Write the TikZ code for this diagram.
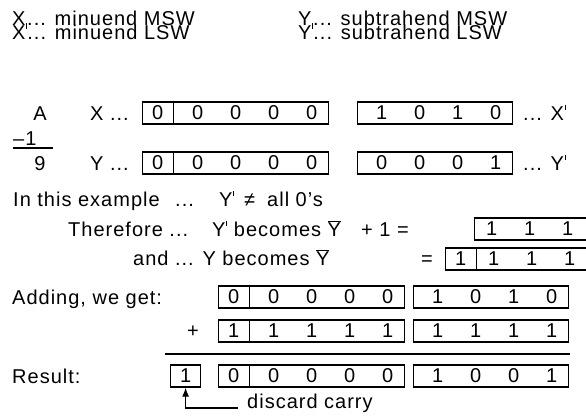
\documentclass[tikz,border=0pt]{standalone}
\usepackage{fontspec}
\setmainfont[LetterSpace=5]{Liberation Sans}
\usetikzlibrary{positioning, shapes.multipart, arrows.meta}

\newcommand{\lotick}{\kern0.6pt\rule[-2pt]{1.1pt}{4.5pt}}
\newcommand{\hitick}{\kern0.8pt\rule[10.5pt]{1.1pt}{5pt}}
\newcommand{\ybar}{$\overline{\mbox{Y}}$}
% one 4 bit nibble, digits 38pt apart
\newcommand{\nib}[5][5pt]{\rule[-4.5pt]{0pt}{22pt}\makebox[155pt][l]{\hspace{#1}\makebox[38pt]{#2}\makebox[38pt]{#3}\makebox[38pt]{#4}\makebox[38pt]{#5}}}
\newcommand{\sgn}[1]{\rule[-4.5pt]{0pt}{22pt}\makebox[30pt]{#1}}

\begin{document}
\begin{tikzpicture}[x=1pt,y=-1pt,
    txt/.style={anchor=base west,inner sep=0pt,font=\fontsize{20}{20}\selectfont},
    reg/.style={draw,line width=1.2pt,inner sep=0pt,anchor=west,font=\fontsize{20}{20}\selectfont},
    regs/.style={reg,rectangle split,rectangle split horizontal,rectangle split parts=2}]

\clip (0,0) rectangle (586,415);

%header================================================================
\node[txt] (h1) at (12,25) {X\lotick... minuend MSW};
\node[txt] (h2) at (12,39) {X\hitick... minuend LSW};
\node[txt] (h3) at (298,25) {Y\lotick... subtrahend MSW};
\node[txt] (h4) at (298,39) {Y\hitick... subtrahend LSW};

%A - 1 = 9=============================================================
\node[txt,anchor=base] (a) at (40,120) {A};
\node[txt] (m1) at (13,145) {–1};
\node[txt,anchor=base] (nine) at (40,170) {9};
\draw[line width=1.2pt] (13,148) -- (53,148);

\node[txt] (xl) at (90,120) {X ...};
\node[regs] (xmsw) at (142,113) {\sgn{0}\nodepart{two}\nib{0}{0}{0}{0}};
\node[reg] (xlsw) at (357,113) {\nib{1}{0}{1}{0}};
\node[txt] (xr) at (523,120) {... X\hitick};

\node[txt] (yl) at (90,170) {Y ...};
\node[regs] (ymsw) at (142,163) {\sgn{0}\nodepart{two}\nib{0}{0}{0}{0}};
\node[reg] (ylsw) at (357,163) {\nib{0}{0}{0}{1}};
\node[txt] (yr) at (523,170) {... Y\hitick};

%two's complement of Y=================================================
\node[txt] (ex1) at (13,206) {In this example};
\node[txt] (ex2) at (175,206) {...};
\node[txt] (ex3) at (219,206) {Y\hitick};
\node[txt] (ex4) at (244,206) {≠};
\node[txt] (ex5) at (267,206) {all 0’s};

\node[txt] (tf1) at (68,236) {Therefore ...};
\node[txt] (tf2) at (212,236) {Y\hitick\ becomes \ybar};
\node[txt] (tf3) at (361,236) {+ 1 =};
\node[reg] (ynlsw) at (474,229) {\nib[-2pt]{1}{1}{1}{1}};

\node[txt] (an) at (133,265) {and ... Y becomes \ybar};
\node[txt,anchor=base] (eq) at (427,265) {=};
\node[regs] (ynmsw) at (445,259) {\sgn{1}\nodepart{two}\nib[-2pt]{1}{1}{1}{1}};

%addition==============================================================
\node[txt] (ad) at (12,304) {Adding, we get:};
\node[regs] (amsw) at (218,297) {\sgn{0}\nodepart{two}\nib{0}{0}{0}{0}};
\node[reg] (alsw) at (413,297) {\nib{1}{0}{1}{0}};

\node[txt,anchor=base] (plus) at (193,337) {+};
\node[regs] (bmsw) at (218,331) {\sgn{1}\nodepart{two}\nib{1}{1}{1}{1}};
\node[reg] (blsw) at (413,331) {\nib{1}{1}{1}{1}};

\draw[line width=1.2pt] (165,354) -- (570,354);

\node[txt] (res) at (12,383) {Result:};
\node[reg] (carry) at (170,376) {\sgn{1}};
\node[regs] (rmsw) at (218,376) {\sgn{0}\nodepart{two}\nib{0}{0}{0}{0}};
\node[reg] (rlsw) at (413,376) {\nib{1}{0}{0}{1}};

\node[txt] (disc) at (247,408) {discard carry};
\draw[line width=1.2pt,-{Latex[length=9pt,width=7pt]}] ([xshift=-9pt]disc.base west) -| (carry.south);
%=======================================================================

\end{tikzpicture}
\end{document}
